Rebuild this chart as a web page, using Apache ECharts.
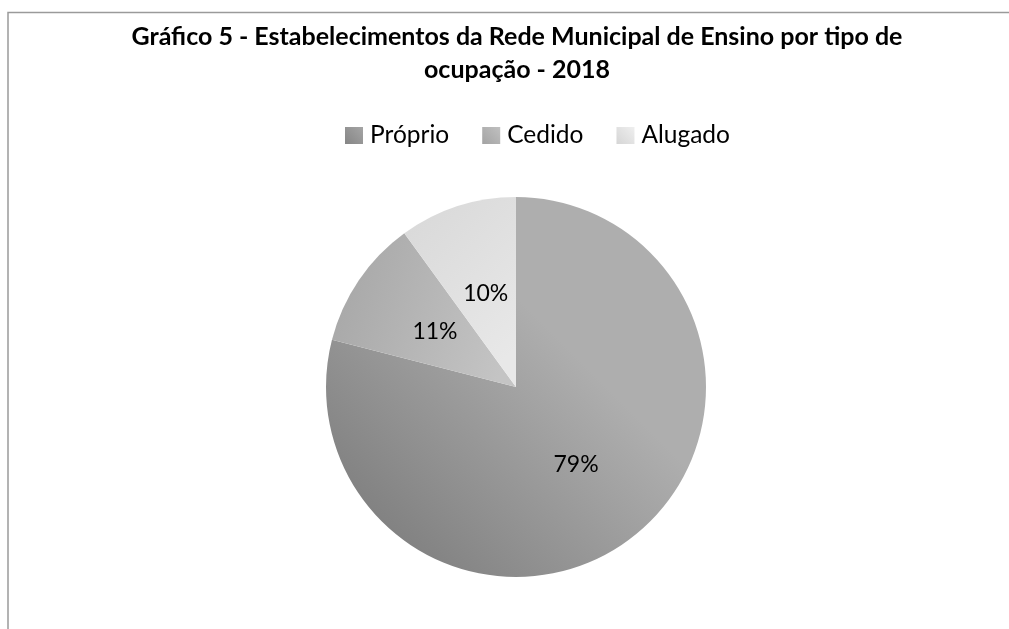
<!DOCTYPE html>
<html>
<head>
<meta charset="utf-8">
<script src="https://cdn.jsdelivr.net/npm/echarts@6/dist/echarts.min.js"></script>
<style>html,body{margin:0;padding:0;background:#fff;}#chart{width:1009px;height:629px;}</style>
</head>
<body>
<div id="chart"></div>
<script>
var categories = ['Próprio', 'Cedido', 'Alugado'];
var values = [79, 11, 10];
var titleText = 'Gráfico 5 - Estabelecimentos da Rede Municipal de Ensino por tipo de\nocupação - 2018';

var FONT = 'Lato, "Open Sans", sans-serif';
function grad(x, y, x2, y2, c1, c2) {
  return new echarts.graphic.LinearGradient(x, y, x2, y2, [{offset: 0, color: c1}, {offset: 1, color: c2}]);
}
var sliceColors = [
  grad(0.62, 0.38, 0.08, 0.92, '#aeaeae', '#7c7c7c'),
  grad(1, 0.6, 0, 0.2, '#c4c4c4', '#a6a6a6'),
  grad(1, 0.8, 0, 0.2, '#e8e8e8', '#dadada')
];
var legendColors = [
  grad(0, 1, 1, 0, '#858585', '#a5a5a5'),
  grad(0, 1, 1, 0, '#a3a3a3', '#c0c0c0'),
  grad(0, 1, 1, 0, '#d5d5d5', '#efefef')
];

var chart = echarts.init(document.getElementById('chart'), null, {renderer: 'canvas'});
chart.setOption({
  backgroundColor: '#ffffff',
  animation: false,
  title: {
    text: titleText,
    left: 512, top: 15, textAlign: 'center',
    textStyle: {fontFamily: FONT, fontSize: 25, fontWeight: 'bold', color: '#000', lineHeight: 33}
  },
  legend: {
    top: 118, left: 340,
    itemWidth: 18, itemHeight: 17, itemGap: 33,
    icon: 'rect',
    textStyle: {fontFamily: FONT, fontSize: 24.5, color: '#000', padding: [0, 0, 0, 2]},
    data: categories.map(function (c, i) { return {name: c, itemStyle: {color: legendColors[i]}}; })
  },
  graphic: [{
    type: 'polyline', silent: true,
    shape: {points: [[8, 629], [8, 12.5], [1009, 12.5]]},
    style: {stroke: '#9a9a9a', lineWidth: 1.5, fill: null}
  }],
  series: [{
    type: 'pie',
    center: [516, 387], radius: 190,
    startAngle: 90, clockwise: true,
    percentPrecision: 0,
    label: {position: 'inside', formatter: '{d}%', fontFamily: FONT, fontSize: 23, color: '#000'},
    labelLine: {show: false},
    emphasis: {disabled: true},
    data: categories.map(function (c, i) { return {name: c, value: values[i], itemStyle: {color: sliceColors[i]}}; })
  }]
});
</script>
</body>
</html>
